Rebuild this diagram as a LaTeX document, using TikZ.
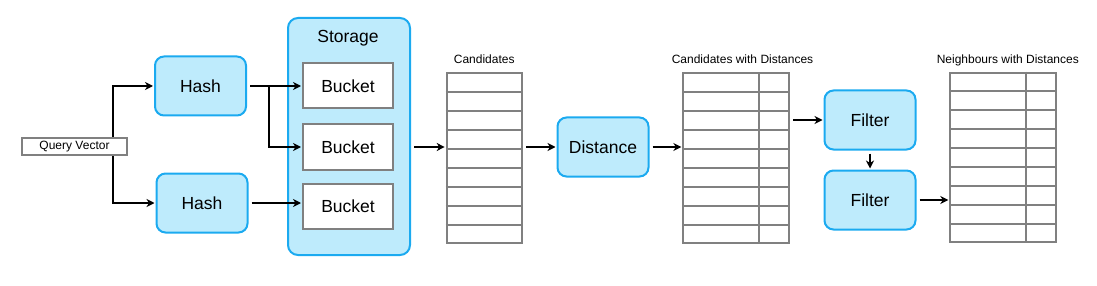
\documentclass[tikz,border=0pt]{standalone}
\usepackage{fontspec}
\setmainfont{Liberation Sans}
\usetikzlibrary{arrows.meta,positioning,calc}
\definecolor{procfill}{RGB}{190,235,252}
\definecolor{procline}{RGB}{27,170,240}
\definecolor{tabline}{RGB}{128,128,128}

\begin{document}
\begin{tikzpicture}[
  x=1pt,y=-1pt,
  proc/.style={draw=procline, fill=procfill, line width=2pt, rounded corners=9pt, minimum width=91pt, minimum height=59pt, inner sep=0pt, font=\fontsize{17.5}{20}\selectfont},
  bucket/.style={draw=tabline, fill=white, line width=2pt, minimum width=90pt, minimum height=45pt, inner sep=0pt, font=\fontsize{17.5}{20}\selectfont},
  tab/.style={draw=tabline, line width=2pt, minimum height=169.5pt, inner sep=0pt},
  lbl/.style={anchor=base, inner sep=0pt, font=\fontsize{12}{14}\selectfont},
  arr/.style={-{Stealth[length=8pt,width=8pt,inset=2.5pt]}, line width=1.8pt, shorten <=3pt, shorten >=1pt}
]
\useasboundingbox (0,0) rectangle (1097,286);
\node[draw=tabline, line width=2pt, minimum width=105pt, minimum height=17pt, inner sep=0pt, font=\fontsize{12}{14}\selectfont] (query) at (74.5,146.5) {Query Vector};
\node[proc] (hash1) at (200.5,86) {Hash};
\node[proc] (hash2) at (202,203) {Hash};
\node[proc, rounded corners=10pt, minimum width=122pt, minimum height=237pt] (store) at (349,136.5) {};
\node[lbl, font=\fontsize{17.5}{20}\selectfont] (storelbl) at (348,42.5) {Storage};
\node[bucket] (bucket1) at (348,86) {Bucket};
\node[bucket] (bucket2) at (348,147) {Bucket};
\node[bucket] (bucket3) at (348,206) {Bucket};
\node[tab, minimum width=75.6pt] (cand) at (484.5,158.2) {};
\node[lbl] (candlbl) at (484.2,64) {Candidates};
\node[proc] (dist) at (603,147) {Distance};
\node[tab, minimum width=105.7pt] (canddist) at (736.2,158.2) {};
\node[lbl] (canddistlbl) at (742.5,64) {Candidates with Distances};
\node[proc] (filter1) at (870,120) {Filter};
\node[proc] (filter2) at (870,200) {Filter};
\node[tab, minimum width=106pt, minimum height=169pt] (neigh) at (1003.3,157.2) {};
\node[lbl] (neighlbl) at (1007.8,63.5) {Neighbours with Distances};
% table rows
\foreach \t in {cand,canddist,neigh}
  \foreach \i in {1,...,8}
    \draw[tabline, line width=2pt] ($(\t.north west)!\i/9!(\t.south west)$) -- ($(\t.north east)!\i/9!(\t.south east)$);
\draw[tabline, line width=2pt] ([xshift=76.7pt]canddist.north west) -- ([xshift=76.7pt]canddist.south west);
\draw[tabline, line width=2pt] ([xshift=77pt]neigh.north west) -- ([xshift=77pt]neigh.south west);
% connectors
\draw[arr, shorten <=0pt] ([xshift=38.5pt]query.north) |- (hash1.west);
\draw[arr, shorten <=0pt] ([xshift=38.5pt]query.south) |- (hash2.west);
\draw[arr] (hash1.east) -- (hash1.east -| bucket1.west);
\draw[arr] (hash1.east) -- ++(22,0) |- (bucket2.west);
\draw[arr] (hash2.east) -- (hash2.east -| bucket3.west);
\draw[arr] (store.east |- bucket2.east) -- (cand.west |- bucket2.east);
\draw[arr] (cand.east |- dist.west) -- (dist.west);
\draw[arr] (dist.east) -- (dist.east -| canddist.west);
\draw[arr] (canddist.east |- filter1.west) -- (filter1.west);
\draw[arr] (filter1) -- (filter2);
\draw[arr] (filter2.east) -- (filter2.east -| neigh.west);
\end{tikzpicture}
\end{document}
